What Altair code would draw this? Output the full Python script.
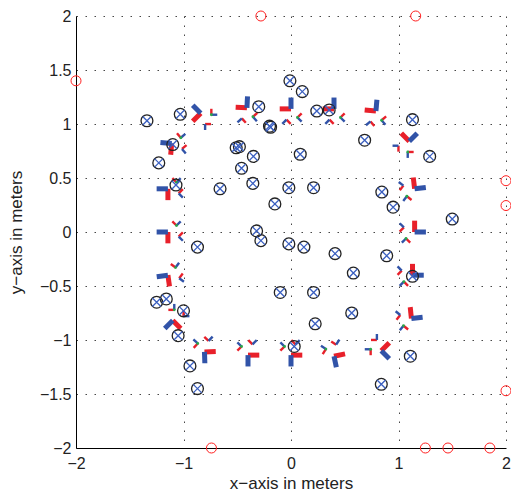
import altair as alt
import pandas as pd
import numpy as np

# Landmarks (circle with cross)
lm_x = [-0.01, -0.30, -1.03, -1.34, -0.20, -0.19, -1.10, -0.51, -0.48, -0.35,
        -1.23, -0.46, -1.07, -0.66, -0.355, -0.02, -0.15, -0.32, 0.105, 0.24,
        0.355, 1.13, 0.685, 0.086, 1.29, 0.21, 0.845, 0.95, 1.50, -0.28,
        -0.02, -0.87, -0.10, -1.25, -1.16, -1.00, -1.05, -0.94, -0.87, 0.03,
        0.12, 0.41, 0.89, 0.58, 1.13, 0.21, 0.565, 0.225, 1.11, 0.84]
lm_y = [1.40, 1.16, 1.09, 1.03, 0.98, 0.97, 0.81, 0.78, 0.79, 0.70,
        0.64, 0.59, 0.435, 0.40, 0.45, 0.41, 0.26, 0.01, 1.30, 1.12,
        1.13, 1.04, 0.85, 0.72, 0.70, 0.41, 0.37, 0.23, 0.12, -0.08,
        -0.11, -0.14, -0.56, -0.65, -0.62, -0.73, -0.96, -1.24, -1.45, -1.06,
        -0.14, -0.20, -0.22, -0.38, -0.41, -0.56, -0.75, -0.85, -1.15, -1.41]

# Out-of-range points shown on the border
out_x = [-2.0, -0.28, 1.16, 2.0, 2.0, 2.0, -0.74, 1.25, 1.46, 1.85]
out_y = [1.40, 2.0, 2.0, 0.475, 0.245, -1.47, -2.0, -2.0, -2.0, -2.0]

# Robot poses (position and heading in degrees)
pose_x = [1.10, 0.79, 0.40, 0.00, -0.41, -0.84, -1.11, -1.145, -1.145, -1.145,
          -1.10, -0.805, -0.40, 0.00, 0.40, 0.84, 1.12, 1.13, 1.15, 1.15]
pose_y = [0.84, 1.12, 1.14, 1.14, 1.15, 1.10, 0.82, 0.40, 0.00, -0.40,
          -0.82, -1.11, -1.14, -1.14, -1.15, -1.10, -0.80, -0.40, 0.00, 0.40]
pose_heading = [135, 175, 180, 180, 177, 225, 265, 270, 270, 278,
                315, 2, 0, 0, 12, 45, 96, 90, 90, 97]

BIG = 0.105
SMALL = 0.055

big_rows, small_rows, green_rows = [], [], []
for px, py, hd in zip(pose_x, pose_y, pose_heading):
    t = np.radians(hd)
    f = np.array([np.cos(t), np.sin(t)])
    b = np.array([np.cos(t - np.pi / 2), np.sin(t - np.pi / 2)])
    o = np.array([px, py])
    big_rows.append(dict(x=px, y=py, x2=px + BIG * f[0], y2=py + BIG * f[1], c="#e8202a", o=0))
    big_rows.append(dict(x=px, y=py, x2=px + BIG * b[0], y2=py + BIG * b[1], c="#3153a8", o=1))
    # two small sensor frames
    for a_, b_, rdeg, bdeg, g in [(0.042, -0.10, 135, 45, False), (-0.06, -0.08, 225, 135, True)]:
        s = o + a_ * f + b_ * b
        for d, col in [(rdeg, "#e8202a"), (bdeg, "#3153a8")]:
            tt = t + np.radians(d)
            small_rows.append(dict(x=s[0], y=s[1], x2=s[0] + SMALL * np.cos(tt),
                                   y2=s[1] + SMALL * np.sin(tt), c=col))
        if g:
            green_rows.append(dict(x=s[0], y=s[1]))

big_df = pd.DataFrame(big_rows)
small_df = pd.DataFrame(small_rows)
green_df = pd.DataFrame(green_rows)
lm_df = pd.DataFrame({"x": lm_x, "y": lm_y})
out_df = pd.DataFrame({"x": out_x, "y": out_y})

FONT = "Liberation Sans"
X = alt.X("x:Q", scale=alt.Scale(domain=[-2, 2], nice=False, zero=False),
          axis=alt.Axis(values=[-2, -1, 0, 1, 2], title="x−axis in meters", format="~g",
                        labelPadding=7, titlePadding=4, labelFlush=False, labelOverlap=False))
Y = alt.Y("y:Q", scale=alt.Scale(domain=[-2, 2], nice=False, zero=False),
          axis=alt.Axis(values=[-2, -1.5, -1, -0.5, 0, 0.5, 1, 1.5, 2], title="y−axis in meters",
                        format="~g", labelPadding=5, titlePadding=14, labelFlush=False,
                        labelOverlap=False))

big = alt.Chart(big_df).mark_rule(strokeWidth=5, strokeCap="butt").encode(
    x=X, y=Y, x2="x2:Q", y2="y2:Q", color=alt.Color("c:N", scale=None), order="o:Q")
small = alt.Chart(small_df).mark_rule(strokeWidth=2.4, strokeCap="butt").encode(
    x=X, y=Y, x2="x2:Q", y2="y2:Q", color=alt.Color("c:N", scale=None))
green = alt.Chart(green_df).mark_point(filled=True, size=8, color="#2aa84a", opacity=1).encode(x=X, y=Y)
lm_circ = alt.Chart(lm_df).mark_point(shape="circle", size=140, color="#222222", strokeWidth=1.3,
                                      filled=False, opacity=1).encode(x=X, y=Y)
lm_cross = alt.Chart(lm_df).mark_point(shape="M-1,-1L1,1M-1,1L1,-1", size=72, color="#3a5fc0",
                                       strokeWidth=1.3, filled=False, opacity=1).encode(x=X, y=Y)
outs = alt.Chart(out_df).mark_point(shape="circle", size=100, color="#ff2020", strokeWidth=1,
                                    filled=False, opacity=1).encode(x=X, y=Y)

chart = alt.layer(big, small, green, lm_circ, lm_cross, outs).properties(
    width=430, height=432,
    autosize=alt.AutoSizeParams(type="none"),
    padding={"left": 68, "top": 8, "right": 5, "bottom": 46},
).configure_view(stroke=None).configure_axis(
    labelFont=FONT, titleFont=FONT, labelFontSize=16, titleFontSize=17,
    titleFontWeight="normal", labelColor="#222", titleColor="#222",
    domainColor="#000", domainWidth=1, ticks=False,
    grid=True, gridColor="#333", gridDash=[1.5, 7.5], gridWidth=1, gridOpacity=0.9,
)

chart.save("out.html", embed_options={"renderer": "svg", "actions": False})
